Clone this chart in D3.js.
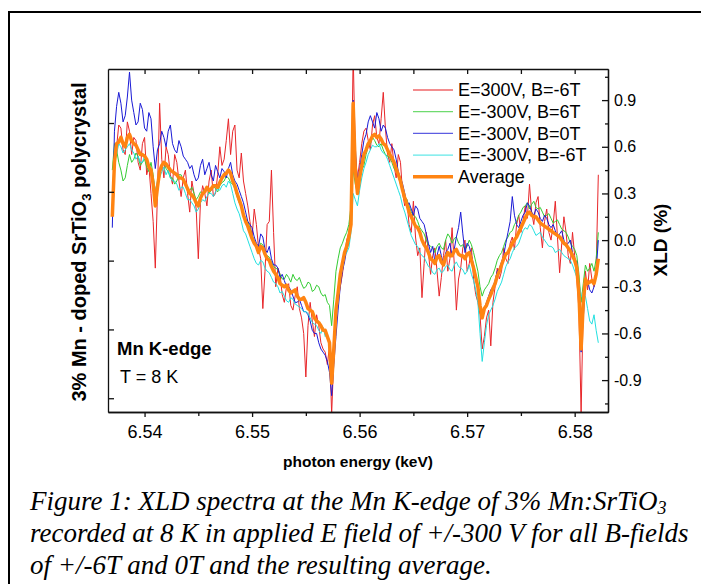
<!doctype html>
<html>
<head>
<meta charset="utf-8">
<script src="https://d3js.org/d3.v7.min.js"></script>
<style>
  body { margin: 0; background: #fff; }
  svg { display: block; }
</style>
</head>
<body>
<script>
// photon energy grid (keV)
var energy = [
  6.5370,6.5372,6.5374,6.5376,6.5378,6.5380,6.5382,6.5384,6.5386,6.5388,6.5390,6.5392,6.5394,6.5396,6.5398,6.5400,6.5402,6.5404,6.5406,6.5408,
  6.5410,6.5412,6.5414,6.5416,6.5418,6.5420,6.5422,6.5424,6.5426,6.5428,6.5430,6.5432,6.5434,6.5436,6.5438,6.5440,6.5442,6.5444,6.5446,6.5448,
  6.5450,6.5452,6.5454,6.5456,6.5458,6.5460,6.5462,6.5464,6.5466,6.5468,6.5470,6.5472,6.5474,6.5476,6.5478,6.5480,6.5482,6.5484,6.5486,6.5488,
  6.5490,6.5492,6.5494,6.5496,6.5498,6.5500,6.5502,6.5504,6.5506,6.5508,6.5510,6.5512,6.5514,6.5516,6.5518,6.5520,6.5522,6.5524,6.5526,6.5528,
  6.5530,6.5532,6.5534,6.5536,6.5538,6.5540,6.5542,6.5544,6.5546,6.5548,6.5550,6.5552,6.5554,6.5556,6.5558,6.5560,6.5562,6.5564,6.5566,6.5568,
  6.5570,6.5572,6.5574,6.5576,6.5578,6.5580,6.5582,6.5584,6.5586,6.5588,6.5590,6.5592,6.5594,6.5596,6.5598,6.5600,6.5602,6.5604,6.5606,6.5608,
  6.5610,6.5612,6.5614,6.5616,6.5618,6.5620,6.5622,6.5624,6.5626,6.5628,6.5630,6.5632,6.5634,6.5636,6.5638,6.5640,6.5642,6.5644,6.5646,6.5648,
  6.5650,6.5652,6.5654,6.5656,6.5658,6.5660,6.5662,6.5664,6.5666,6.5668,6.5670,6.5672,6.5674,6.5676,6.5678,6.5680,6.5682,6.5684,6.5686,6.5688,
  6.5690,6.5692,6.5694,6.5696,6.5698,6.5700,6.5702,6.5704,6.5706,6.5708,6.5710,6.5712,6.5714,6.5716,6.5718,6.5720,6.5722,6.5724,6.5726,6.5728,
  6.5730,6.5732,6.5734,6.5736,6.5738,6.5740,6.5742,6.5744,6.5746,6.5748,6.5750,6.5752,6.5754,6.5756,6.5758,6.5760,6.5762,6.5764,6.5766,6.5768,
  6.5770,6.5772,6.5774,6.5776,6.5778,6.5780,6.5782,6.5784,6.5786,6.5788,6.5790,6.5792,6.5794,6.5796,6.5798,6.5800,6.5802,6.5804,6.5806,6.5808,
  6.5810,6.5812,6.5814,6.5816,6.5818,6.5820,6.5822
];

// XLD (%) for each measurement
var xldE300Bm6 = [
  0.20,0.52,0.60,0.74,0.72,0.58,0.55,0.76,0.70,0.55,0.66,0.64,0.50,0.45,0.62,0.66,0.42,0.48,0.30,0.12,
  -0.18,0.30,0.88,0.52,0.40,0.60,0.55,0.42,0.36,0.55,0.50,0.38,0.28,0.40,0.45,0.30,0.18,0.38,0.30,0.20,
  -0.12,0.25,0.35,0.30,0.22,0.38,0.45,0.28,0.30,0.42,0.60,0.48,0.52,0.64,0.78,0.55,0.70,0.74,0.45,0.40,
  0.56,0.38,0.30,0.22,0.12,0.02,0.20,0.10,-0.05,-0.12,-0.44,-0.20,0.10,0.12,0.45,0.05,-0.30,-0.18,-0.22,-0.35,
  -0.40,-0.30,-0.28,-0.42,-0.45,-0.36,-0.30,-0.44,-0.50,-0.60,-0.88,-0.55,-0.40,-0.52,-0.62,-0.48,-0.55,-0.66,-0.70,-0.72,
  -0.80,-0.68,-1.12,-0.75,-0.50,-0.38,-0.30,-0.22,-0.10,0.00,0.05,0.20,1.20,0.55,0.40,0.50,0.62,0.70,0.72,0.64,
  0.58,0.74,0.80,0.66,0.62,0.78,0.95,0.72,0.55,0.50,0.62,0.48,0.40,0.55,0.50,0.30,0.22,0.26,0.10,0.05,
  0.25,0.02,-0.10,-0.05,-0.37,-0.15,0.05,-0.08,-0.22,-0.10,-0.05,-0.20,-0.36,-0.24,-0.10,0.00,-0.20,-0.12,0.08,-0.15,
  -0.45,-0.25,-0.18,-0.05,0.00,-0.20,-0.15,-0.05,-0.25,-0.35,-0.40,-0.48,-0.70,-0.62,-0.50,-0.45,-0.68,-0.40,-0.30,-0.18,
  -0.25,-0.20,-0.05,-0.12,-0.15,-0.02,0.02,-0.06,0.10,0.16,0.05,0.12,0.22,0.14,0.36,0.18,0.10,0.24,0.28,0.08,
  -0.05,0.12,0.20,0.05,0.00,0.10,0.25,0.02,-0.21,-0.02,0.15,0.05,-0.10,-0.15,0.05,-0.10,-0.25,-0.45,-1.12,-0.40,
  -0.20,-0.32,-0.15,-0.25,-0.30,-0.18,0.42
];
var xldEm300B6 = [
  0.45,0.62,0.58,0.50,0.45,0.38,0.40,0.48,0.55,0.50,0.52,0.56,0.54,0.48,0.50,0.52,0.47,0.44,0.50,0.42,
  0.30,0.36,0.42,0.48,0.50,0.46,0.44,0.40,0.40,0.36,0.38,0.42,0.42,0.38,0.36,0.32,0.32,0.34,0.30,0.26,
  0.28,0.31,0.30,0.33,0.34,0.30,0.32,0.35,0.33,0.31,0.35,0.37,0.38,0.41,0.40,0.37,0.36,0.33,0.28,0.24,
  0.22,0.17,0.14,0.12,0.08,0.03,0.00,-0.04,-0.06,-0.02,-0.03,-0.08,-0.10,-0.11,-0.14,-0.17,-0.18,-0.19,-0.22,-0.25,
  -0.25,-0.22,-0.24,-0.27,-0.22,-0.25,-0.26,-0.24,-0.28,-0.31,-0.30,-0.27,-0.28,-0.33,-0.32,-0.29,-0.30,-0.34,-0.36,-0.35,
  -0.40,-0.42,-0.55,-0.38,-0.20,-0.12,-0.05,-0.02,0.02,0.05,0.10,0.22,0.45,0.36,0.30,0.40,0.45,0.48,0.55,0.60,
  0.62,0.66,0.64,0.61,0.60,0.62,0.58,0.55,0.54,0.53,0.50,0.46,0.44,0.41,0.36,0.31,0.28,0.26,0.22,0.18,
  0.16,0.15,0.12,0.08,0.06,0.04,0.00,-0.03,-0.04,-0.05,-0.08,-0.04,-0.02,-0.05,-0.06,0.00,0.04,0.02,-0.02,0.01,
  0.02,-0.02,-0.04,-0.03,-0.06,-0.04,0.00,-0.03,-0.08,-0.14,-0.20,-0.30,-0.36,-0.32,-0.30,-0.28,-0.24,-0.22,-0.18,-0.13,
  -0.10,-0.08,-0.04,0.00,0.02,0.05,0.06,0.10,0.12,0.16,0.18,0.21,0.22,0.24,0.20,0.23,0.25,0.21,0.20,0.21,
  0.18,0.15,0.16,0.17,0.14,0.11,0.12,0.13,0.10,0.07,0.06,0.05,0.02,-0.02,-0.04,-0.06,-0.10,-0.22,-0.40,-0.28,
  -0.16,-0.20,-0.18,-0.15,-0.20,-0.12,0.05
];
var xldEm300B0 = [
  0.08,0.70,0.86,0.95,0.88,0.76,0.80,0.92,1.08,0.90,0.82,0.74,0.76,0.88,0.84,0.72,0.70,0.82,0.78,0.60,
  0.46,0.58,0.62,0.70,0.66,0.60,0.70,0.74,0.62,0.58,0.56,0.64,0.60,0.54,0.52,0.50,0.46,0.48,0.42,0.38,
  0.40,0.48,0.52,0.42,0.46,0.50,0.42,0.38,0.48,0.44,0.40,0.46,0.44,0.40,0.46,0.50,0.42,0.38,0.36,0.32,
  0.28,0.24,0.18,0.12,0.10,0.08,0.02,-0.02,-0.04,0.04,0.02,-0.06,-0.08,-0.04,-0.12,-0.16,-0.16,-0.18,-0.24,-0.22,
  -0.26,-0.30,-0.30,-0.32,-0.36,-0.40,-0.40,-0.38,-0.42,-0.46,-0.46,-0.48,-0.52,-0.58,-0.60,-0.60,-0.66,-0.70,-0.72,-0.74,
  -0.78,-0.85,-1.00,-0.80,-0.62,-0.45,-0.30,-0.20,-0.14,-0.06,-0.02,0.15,0.90,0.60,0.35,0.45,0.55,0.64,0.68,0.76,
  0.80,0.76,0.72,0.82,0.78,0.70,0.74,0.72,0.66,0.62,0.60,0.58,0.52,0.44,0.40,0.36,0.30,0.22,0.24,0.20,
  0.16,0.22,0.20,0.14,0.12,0.10,0.04,-0.02,-0.08,-0.04,-0.14,-0.10,-0.04,-0.10,-0.16,-0.08,-0.06,-0.02,-0.10,-0.06,
  0.02,0.08,0.18,0.04,-0.08,-0.02,-0.04,-0.10,-0.16,-0.22,-0.30,-0.42,-0.50,-0.44,-0.40,-0.36,-0.32,-0.30,-0.26,-0.20,
  -0.18,-0.14,-0.10,-0.02,0.05,0.12,0.28,0.16,0.10,0.08,0.12,0.16,0.18,0.24,0.22,0.18,0.16,0.20,0.18,0.14,
  0.12,0.16,0.14,0.10,0.08,0.10,0.06,0.02,0.04,0.06,0.00,-0.04,-0.02,0.00,-0.08,-0.12,-0.14,-0.30,-0.72,-0.50,
  -0.30,-0.26,-0.32,-0.34,-0.30,-0.20,0.00
];
var xldEm300Bm6 = [
  0.30,0.50,0.55,0.62,0.60,0.56,0.58,0.60,0.62,0.58,0.56,0.52,0.54,0.50,0.50,0.54,0.52,0.46,0.44,0.40,
  0.32,0.38,0.40,0.44,0.47,0.42,0.45,0.40,0.38,0.38,0.36,0.32,0.34,0.34,0.30,0.26,0.26,0.24,0.22,0.18,
  0.20,0.24,0.26,0.25,0.28,0.30,0.30,0.28,0.31,0.33,0.32,0.35,0.36,0.34,0.38,0.36,0.30,0.24,0.20,0.17,
  0.12,0.06,0.04,0.00,-0.04,-0.08,-0.12,-0.15,-0.16,-0.13,-0.14,-0.18,-0.20,-0.21,-0.24,-0.27,-0.28,-0.30,-0.34,-0.33,
  -0.36,-0.39,-0.40,-0.37,-0.38,-0.41,-0.42,-0.43,-0.44,-0.46,-0.46,-0.47,-0.50,-0.53,-0.54,-0.55,-0.58,-0.60,-0.56,-0.62,
  -0.60,-0.70,-0.90,-0.72,-0.50,-0.38,-0.25,-0.18,-0.10,-0.08,-0.05,0.05,0.30,0.26,0.22,0.32,0.40,0.46,0.50,0.55,
  0.58,0.61,0.60,0.60,0.62,0.58,0.56,0.55,0.52,0.48,0.44,0.40,0.36,0.32,0.28,0.22,0.18,0.13,0.08,0.03,
  0.00,-0.03,-0.04,-0.08,-0.10,-0.11,-0.14,-0.17,-0.18,-0.21,-0.22,-0.19,-0.18,-0.21,-0.20,-0.17,-0.16,-0.19,-0.20,-0.16,
  -0.14,-0.17,-0.18,-0.19,-0.22,-0.20,-0.16,-0.22,-0.26,-0.32,-0.40,-0.60,-0.78,-0.66,-0.55,-0.48,-0.45,-0.42,-0.38,-0.33,
  -0.30,-0.27,-0.22,-0.17,-0.14,-0.12,-0.08,-0.05,-0.04,-0.02,0.02,0.06,0.08,0.07,0.10,0.09,0.06,0.03,0.04,0.05,
  0.02,0.00,-0.02,-0.04,-0.04,-0.05,-0.08,-0.07,-0.06,-0.08,-0.10,-0.11,-0.12,-0.13,-0.16,-0.20,-0.24,-0.28,-0.35,-0.38,
  -0.36,-0.44,-0.52,-0.54,-0.48,-0.58,-0.66
];
var xldAverage = [
  0.15,0.50,0.62,0.63,0.66,0.62,0.60,0.66,0.68,0.64,0.62,0.61,0.58,0.55,0.55,0.54,0.52,0.47,0.45,0.36,
  0.22,0.34,0.44,0.48,0.50,0.49,0.47,0.45,0.44,0.43,0.42,0.40,0.40,0.39,0.36,0.33,0.30,0.29,0.27,0.24,
  0.22,0.27,0.30,0.31,0.34,0.32,0.33,0.35,0.35,0.34,0.37,0.40,0.42,0.43,0.45,0.43,0.38,0.35,0.30,0.26,
  0.22,0.16,0.12,0.09,0.05,0.01,-0.02,-0.04,-0.08,-0.04,-0.05,-0.09,-0.12,-0.13,-0.17,-0.20,-0.22,-0.24,-0.28,-0.29,
  -0.30,-0.29,-0.32,-0.34,-0.33,-0.32,-0.36,-0.38,-0.38,-0.37,-0.40,-0.44,-0.45,-0.46,-0.50,-0.52,-0.53,-0.55,-0.58,-0.58,
  -0.62,-0.66,-0.92,-0.70,-0.45,-0.34,-0.22,-0.15,-0.08,-0.04,0.02,0.10,0.88,0.45,0.30,0.40,0.48,0.55,0.58,0.62,
  0.64,0.67,0.68,0.66,0.67,0.65,0.62,0.61,0.58,0.55,0.53,0.50,0.46,0.42,0.38,0.32,0.27,0.23,0.18,0.15,
  0.12,0.09,0.08,0.05,0.00,-0.03,-0.05,-0.08,-0.12,-0.13,-0.15,-0.11,-0.10,-0.14,-0.16,-0.11,-0.08,-0.10,-0.10,-0.07,
  -0.06,-0.09,-0.10,-0.10,-0.12,-0.09,-0.08,-0.13,-0.18,-0.24,-0.30,-0.42,-0.50,-0.44,-0.42,-0.38,-0.35,-0.31,-0.28,-0.23,
  -0.20,-0.16,-0.12,-0.09,-0.08,-0.05,-0.02,0.00,0.02,0.05,0.08,0.11,0.14,0.17,0.18,0.16,0.15,0.15,0.13,0.11,
  0.10,0.09,0.08,0.07,0.06,0.05,0.04,0.03,0.02,0.00,-0.02,-0.03,-0.05,-0.07,-0.10,-0.13,-0.18,-0.35,-0.70,-0.40,
  -0.25,-0.28,-0.27,-0.26,-0.28,-0.22,-0.12
];

var seriesNames = ["E=300V, B=-6T", "E=-300V, B=6T", "E=-300V, B=0T", "E=-300V, B=-6T", "Average"];
var seriesValues = [xldE300Bm6, xldEm300B6, xldEm300B0, xldEm300Bm6, xldAverage];
var seriesColors = ["#e8262a", "#33cc33", "#1a1ad6", "#22e0e0", "#ff8412"];
var seriesWidths = [1, 1, 1, 1, 3.5];

var xTicks = [6.54, 6.55, 6.56, 6.57, 6.58];
var xMinorTicks = [6.545, 6.555, 6.565, 6.575];
var yTicks = [-0.9, -0.6, -0.3, 0.0, 0.3, 0.6, 0.9];
var yMinorTicks = [-1.05, -0.75, -0.45, -0.15, 0.15, 0.45, 0.75, 1.05];
var leftTicks = [0, 1, 2, 3, 4];

var width = 701, height = 584;
var plot = { left: 108, right: 608, top: 69, bottom: 412 };

var svg = d3.select("body").append("svg")
  .attr("width", width)
  .attr("height", height);

svg.append("rect").attr("width", width).attr("height", height).attr("fill", "#fff");

// figure frame (top and left edges only)
svg.append("path")
  .attr("d", "M9,584 L9,12 L701,12")
  .attr("fill", "none")
  .attr("stroke", "#000")
  .attr("stroke-width", 2);

var x = d3.scaleLinear().domain([6.5366, 6.5831]).range([plot.left, plot.right]);
var y = d3.scaleLinear().domain([-1.105, 1.1]).range([plot.bottom, plot.top]);
var yLeft = d3.scaleLinear().domain([-0.2, 4.785]).range([plot.bottom, plot.top]);

var sans = "'Liberation Sans', Arial, sans-serif";

svg.append("defs").append("clipPath").attr("id", "plotclip")
  .append("rect")
  .attr("x", plot.left).attr("y", plot.top)
  .attr("width", plot.right - plot.left).attr("height", plot.bottom - plot.top);

// spectra
var line = d3.line()
  .defined(function(d, i) { return energy[i] !== undefined; })
  .x(function(d, i) { return x(energy[i]); })
  .y(function(d) { return y(d); });

var lines = svg.append("g").attr("clip-path", "url(#plotclip)");
seriesValues.forEach(function(vals, k) {
  lines.append("path")
    .datum(vals)
    .attr("d", line)
    .attr("fill", "none")
    .attr("stroke", seriesColors[k])
    .attr("stroke-width", seriesWidths[k])
    .attr("stroke-linejoin", "round");
});

// axes
function styleAxis(g) {
  g.selectAll("path, line").attr("stroke", "#111").attr("stroke-width", 1.3);
  g.selectAll("text").attr("font-family", sans).attr("fill", "#000");
}

svg.append("g")
  .attr("transform", "translate(0," + plot.bottom + ")")
  .call(d3.axisBottom(x).tickValues(xTicks).tickSize(5).tickSizeOuter(0).tickPadding(8)
    .tickFormat(function(d) { return d.toFixed(2); }))
  .call(styleAxis)
  .selectAll("text").attr("font-size", "18px");

svg.append("g")
  .attr("transform", "translate(0," + plot.bottom + ")")
  .call(d3.axisBottom(x).tickValues(xMinorTicks).tickSize(4).tickSizeOuter(0).tickFormat(""))
  .call(styleAxis);

svg.append("g")
  .attr("transform", "translate(0," + plot.top + ")")
  .call(d3.axisTop(x).tickValues(xTicks.concat(xMinorTicks)).tickSize(-5).tickSizeOuter(0).tickFormat(""))
  .call(styleAxis);

svg.append("g")
  .attr("transform", "translate(" + plot.left + ",0)")
  .call(d3.axisLeft(yLeft).tickValues(leftTicks).tickSize(-6).tickSizeOuter(0).tickFormat(""))
  .call(styleAxis);

svg.append("g")
  .attr("transform", "translate(" + plot.right + ",0)")
  .call(d3.axisRight(y).tickValues(yTicks).tickSize(-6).tickSizeOuter(0).tickPadding(6)
    .tickFormat(function(d) { return d.toFixed(1); }))
  .call(styleAxis)
  .selectAll("text").attr("font-size", "16px");

svg.append("g")
  .attr("transform", "translate(" + plot.right + ",0)")
  .call(d3.axisRight(y).tickValues(yMinorTicks).tickSize(-3).tickSizeOuter(0).tickFormat(""))
  .call(styleAxis);

// axis titles
svg.append("text")
  .attr("x", (plot.left + plot.right) / 2)
  .attr("y", 467)
  .attr("text-anchor", "middle")
  .attr("font-family", sans)
  .attr("font-weight", "bold")
  .attr("font-size", "15.5px")
  .text("photon energy (keV)");

var yTitle = svg.append("text")
  .attr("transform", "translate(86,242) rotate(-90)")
  .attr("text-anchor", "middle")
  .attr("font-family", sans)
  .attr("font-weight", "bold")
  .attr("font-size", "20px");
yTitle.append("tspan").text("3% Mn - doped SrTiO");
yTitle.append("tspan").attr("dy", 5).attr("font-size", "13px").text("3");
yTitle.append("tspan").attr("dy", -5).text(" polycrystal");

svg.append("text")
  .attr("transform", "translate(667,240) rotate(-90)")
  .attr("text-anchor", "middle")
  .attr("font-family", sans)
  .attr("font-weight", "bold")
  .attr("font-size", "19px")
  .text("XLD (%)");

// legend
var legend = svg.append("g");
seriesNames.forEach(function(name, k) {
  var ly = 90 + k * 21.7;
  legend.append("line")
    .attr("x1", 413).attr("x2", 453)
    .attr("y1", ly).attr("y2", ly)
    .attr("stroke", seriesColors[k])
    .attr("stroke-width", seriesWidths[k] === 1 ? 1.3 : 3.5)
    .attr("opacity", seriesWidths[k] === 1 ? 0.7 : 1);
  legend.append("text")
    .attr("x", 458).attr("y", ly)
    .attr("dy", "0.35em")
    .attr("font-family", sans)
    .attr("font-size", "18px")
    .text(name);
});

// annotations
svg.append("text")
  .attr("x", 117).attr("y", 355)
  .attr("font-family", sans)
  .attr("font-weight", "bold")
  .attr("font-size", "18.5px")
  .text("Mn K-edge");

svg.append("text")
  .attr("x", 120).attr("y", 383)
  .attr("font-family", sans)
  .attr("font-size", "18px")
  .text("T = 8 K");

// caption
var serif = "'Liberation Serif', 'Times New Roman', serif";
var capSize = "27px";
var cap1 = svg.append("text")
  .attr("x", 30).attr("y", 510)
  .attr("font-family", serif)
  .attr("font-style", "italic")
  .attr("font-size", capSize);
cap1.append("tspan").text("Figure 1: XLD spectra at the Mn K-edge of 3% Mn:SrTiO");
cap1.append("tspan").attr("dy", 4).attr("font-size", "18px").text("3");

svg.append("text")
  .attr("x", 30).attr("y", 542)
  .attr("font-family", serif)
  .attr("font-style", "italic")
  .attr("font-size", capSize)
  .text("recorded at 8 K in applied E field of +/-300 V for all B-fields");

svg.append("text")
  .attr("x", 30).attr("y", 574)
  .attr("font-family", serif)
  .attr("font-style", "italic")
  .attr("font-size", capSize)
  .text("of +/-6T and 0T and the resulting average.");
</script>
</body>
</html>
